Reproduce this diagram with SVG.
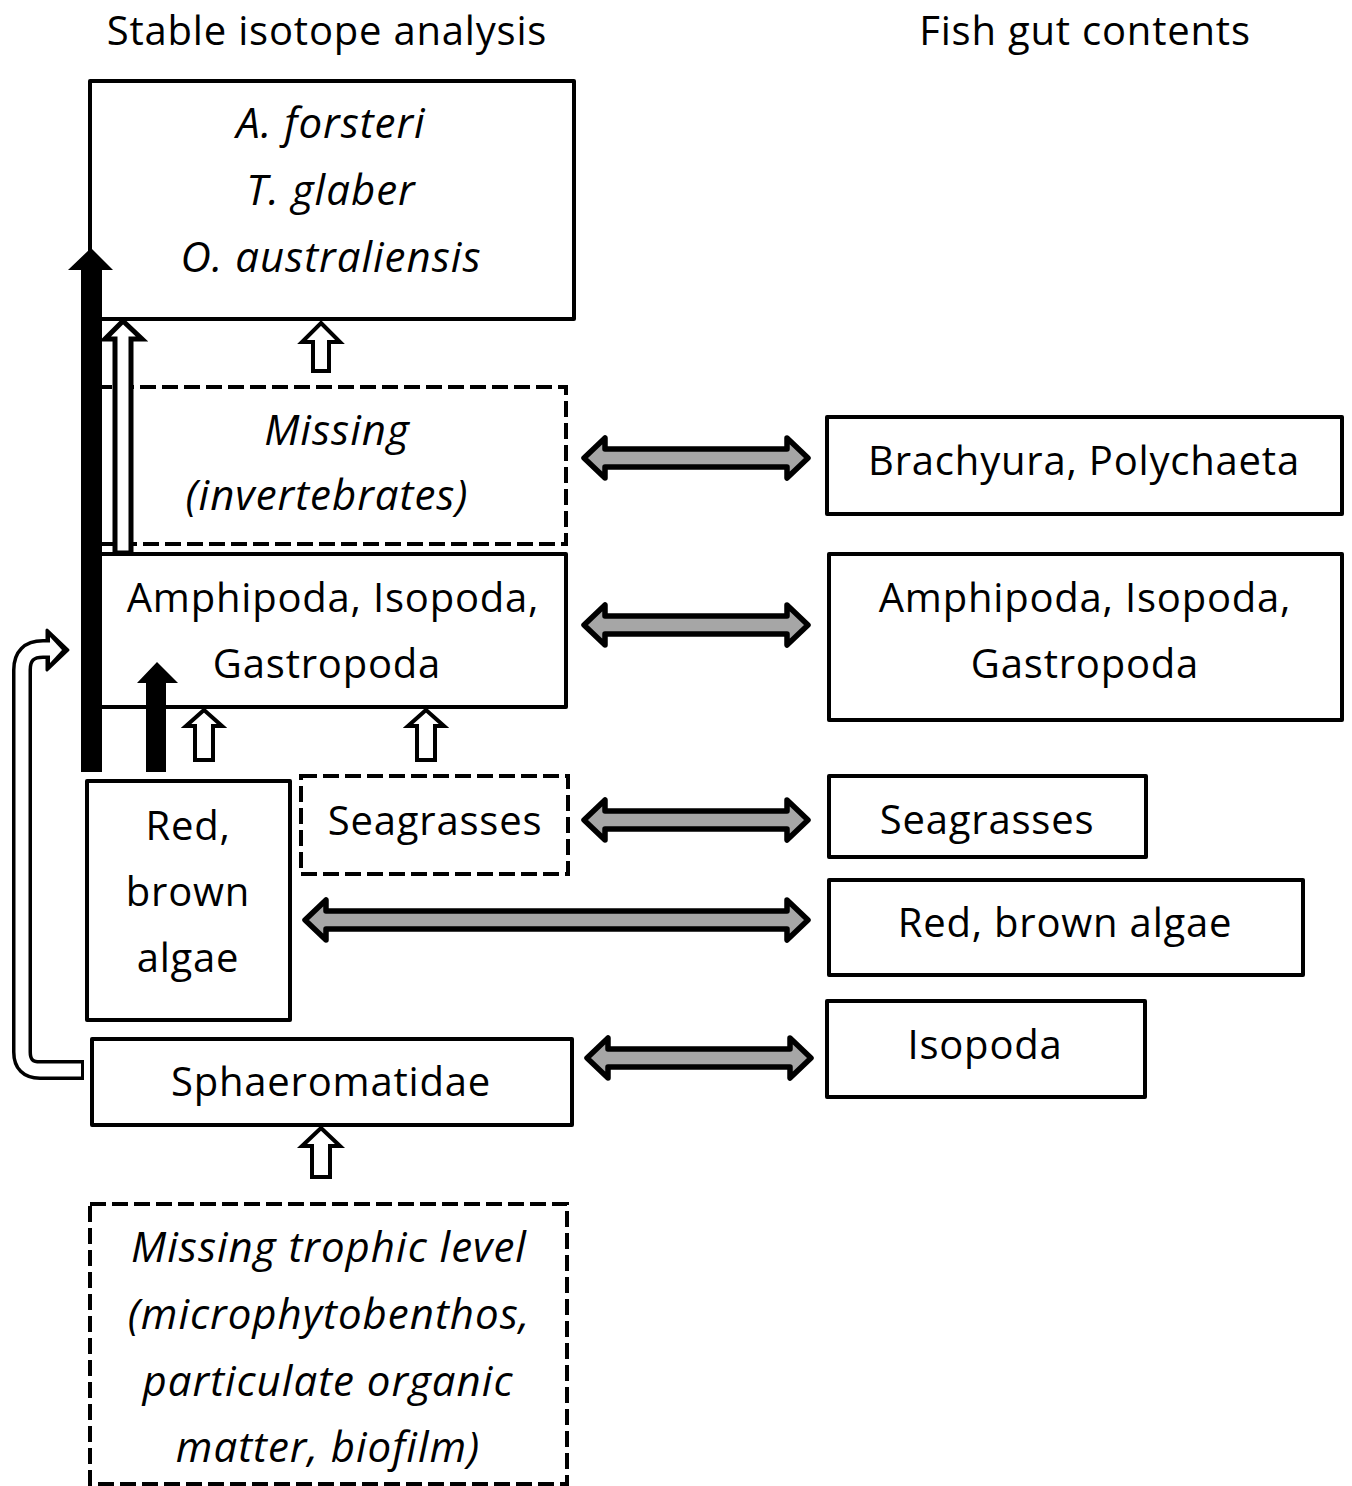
<svg xmlns="http://www.w3.org/2000/svg" width="1352" height="1486" viewBox="0 0 1352 1486">
<style>
.box{fill:#fff;stroke:#000;stroke-width:4;stroke-linejoin:round}
.dash{fill:#fff;stroke:#000;stroke-width:4;stroke-dasharray:16 6}
.t{font-family:"Open Sans","Liberation Sans",sans-serif;font-size:40px;letter-spacing:0.8px;fill:#000;text-anchor:middle}
.i{font-style:italic;font-size:42px;letter-spacing:1px}
.grey{fill:#a6a6a6;stroke:#000;stroke-width:5.5;stroke-linejoin:round}
.hollow{fill:#fff;stroke:#000;stroke-width:4;stroke-linejoin:miter}
.solid{fill:#000;stroke:none}
</style>
<rect width="1352" height="1486" fill="#fff"/>
<text class="t" x="327" y="45">Stable isotope analysis</text>
<text class="t" x="1085" y="45">Fish gut contents</text>

<g id="node-predators">
<rect class="box" x="90" y="81" width="484" height="238"/>
<text class="t i" x="331" y="138">A. forsteri</text>
<text class="t i" x="331" y="205">T. glaber</text>
<text class="t i" x="331" y="272">O. australiensis</text>
</g>
<g id="node-missing-invert">
<rect class="dash" x="96" y="387" width="470" height="157"/>
<text class="t i" x="337" y="445">Missing</text>
<text class="t i" x="327" y="510">(invertebrates)</text>
</g>
<g id="node-amphipoda">
<rect class="box" x="92" y="554" width="474" height="153"/>
<text class="t" x="333" y="612">Amphipoda, Isopoda,</text>
<text class="t" x="327" y="678">Gastropoda</text>
</g>
<g id="node-algae">
<rect class="box" x="87" y="781" width="203" height="239"/>
<text class="t" x="188" y="840">Red,</text>
<text class="t" x="188" y="906">brown</text>
<text class="t" x="188" y="972">algae</text>
</g>
<g id="node-seagrasses">
<rect class="dash" x="301" y="776" width="267" height="98"/>
<text class="t" x="435" y="835">Seagrasses</text>
</g>
<g id="node-sphaeromatidae">
<rect class="box" x="92" y="1039" width="480" height="86"/>
<text class="t" x="331" y="1096">Sphaeromatidae</text>
</g>
<g id="node-missing-trophic">
<rect class="dash" x="90" y="1204" width="477" height="280"/>
<text class="t i" x="329" y="1262">Missing trophic level</text>
<text class="t i" x="329" y="1329">(microphytobenthos,</text>
<text class="t i" x="328" y="1396">particulate organic</text>
<text class="t i" x="328" y="1462">matter, biofilm)</text>
</g>
<g id="node-gut-brachyura">
<rect class="box" x="827" y="417" width="515" height="97"/>
<text class="t" x="1084" y="475">Brachyura, Polychaeta</text>
</g>
<g id="node-gut-amphipoda">
<rect class="box" x="829" y="554" width="513" height="166"/>
<text class="t" x="1085" y="612">Amphipoda, Isopoda,</text>
<text class="t" x="1085" y="678">Gastropoda</text>
</g>
<g id="node-gut-seagrasses">
<rect class="box" x="829" y="776" width="317" height="81"/>
<text class="t" x="987" y="834">Seagrasses</text>
</g>
<g id="node-gut-algae">
<rect class="box" x="829" y="880" width="474" height="95"/>
<text class="t" x="1065" y="937">Red, brown algae</text>
</g>
<g id="node-gut-isopoda">
<rect class="box" x="827" y="1001" width="318" height="96"/>
<text class="t" x="985" y="1059">Isopoda</text>
</g>

<g id="connectors">
<polygon class="grey" points="584,458 605,438 605,449 787,449 787,438 808,458 787,478 787,467 605,467 605,478"/>
<polygon class="grey" points="584,625 605,605 605,616 787,616 787,605 808,625 787,645 787,634 605,634 605,645"/>
<polygon class="grey" points="584,820 605,800 605,811 787,811 787,800 808,820 787,840 787,829 605,829 605,840"/>
<polygon class="grey" points="305,920 326,900 326,911 787,911 787,900 808,920 787,940 787,929 326,929 326,940"/>
<polygon class="grey" points="587,1058 608,1038 608,1049 790,1049 790,1038 811,1058 790,1078 790,1067 608,1067 608,1078"/>
<polygon class="hollow" points="321,323 340,342 329,342 329,371 313,371 313,342 302,342"/>
<polygon class="hollow" points="204,710 222,726 213,726 213,760 195,760 195,726 186,726"/>
<polygon class="hollow" points="426,710 444,726 435,726 435,760 417,760 417,726 408,726"/>
<polygon class="hollow" points="321,1128 340,1146 330,1146 330,1177 312,1177 312,1146 302,1146"/>
<polygon class="hollow" style="stroke-width:5" points="123,321 142,339 131,339 131,553 115,553 115,339 105,339"/>
<polygon class="solid" points="91,248 113,270 102,270 102,772 81,772 81,270 68,270"/>
<polygon class="solid" points="157,662 178,683 166,683 166,772 146,772 146,683 137,683"/>
<path d="M84,1070 H40 Q22,1070 22,1052 V670 Q22,649 43,649 H50" fill="none" stroke="#000" stroke-width="20"/>
<polygon points="47,630 68,650 47,670" fill="#000" stroke="#000" stroke-width="3" stroke-linejoin="round"/>
<path d="M81,1070 H40 Q22,1070 22,1052 V670 Q22,649 43,649 H52" fill="none" stroke="#fff" stroke-width="13"/>
<polygon points="50,637 62,650 50,663" fill="#fff"/>
</g>
</svg>
